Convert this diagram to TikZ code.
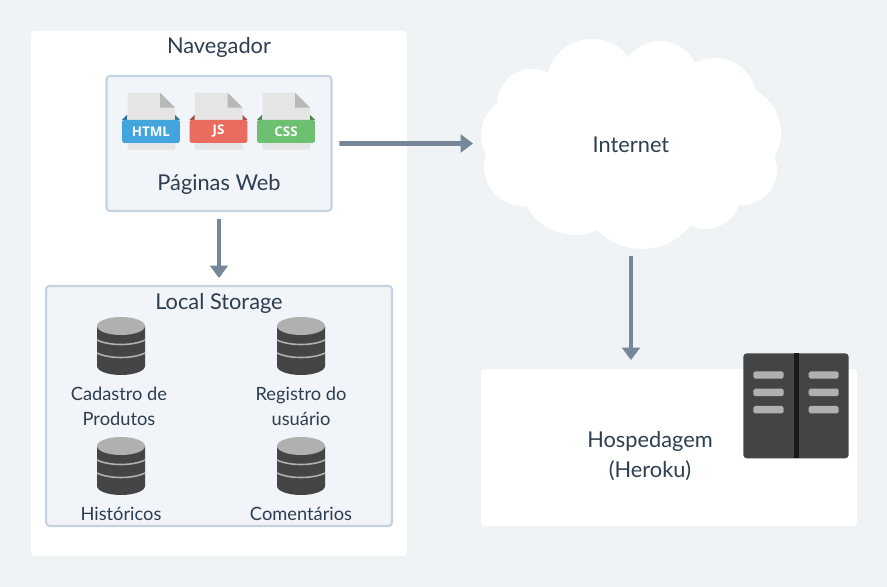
\documentclass[tikz,border=0pt]{standalone}
\usepackage{fontspec}
\setmainfont{Lato}
\newfontfamily\iconfont{Open Sans}
\usepackage{xcolor}
\definecolor{pagebg}{RGB}{239,243,246}
\definecolor{boxfill}{RGB}{241,244,248}
\definecolor{boxline}{RGB}{197,210,223}
\definecolor{arrowgray}{RGB}{118,135,154}
\definecolor{inktext}{RGB}{44,62,80}
\definecolor{sheetgray}{RGB}{229,229,229}
\definecolor{foldgray}{RGB}{184,184,184}
\definecolor{dbdark}{RGB}{68,68,68}
\definecolor{dbtop}{RGB}{176,176,176}
\definecolor{htmlblue}{RGB}{66,165,222}
\definecolor{jsred}{RGB}{234,107,96}
\definecolor{cssgreen}{RGB}{108,192,112}
\usetikzlibrary{arrows.meta, positioning}

\begin{document}
\begin{tikzpicture}[
    x=0.02cm, y=-0.02cm,
    panel/.style={rectangle, rounded corners=2pt, fill=white, inner sep=0pt, outer sep=0pt},
    framebox/.style={rectangle, rounded corners=2pt, draw=boxline, line width=1.2pt, fill=boxfill,
                     inner sep=0pt, outer sep=0pt},
    lbl/.style={font=\fontsize{12.4}{17}\selectfont, text=inktext, align=center, inner sep=0pt},
    dblbl/.style={font=\fontsize{10.4}{14.2}\selectfont, text=inktext, align=center, inner sep=0pt},
    arr/.style={-{Triangle[length=7pt, width=10pt]}, line width=2.8pt, arrowgray},
    fileicon/.pic={
        \fill[sheetgray] (-23.5,0) -- (9,0) -- (24,15) -- (24,57) -- (-23.5,57) -- cycle;
        \fill[foldgray] (9,0) -- (24,15) -- (9,15) -- cycle;
    },
    dbicon/.pic={
        \fill[dbdark] (-24,9) -- (-24,49) arc[x radius=24, y radius=9, start angle=180, end angle=0]
            -- (24,9) -- cycle;
        \fill[dbtop] (0,9) ellipse[x radius=24, y radius=9];
        \foreach \yy in {27,40}
            \draw[dbtop, line width=0.9pt] (-24,\yy-4) .. controls (-12,\yy+2) and (12,\yy+2) .. (24,\yy-4);
    },
]

\fill[pagebg] (0,0) rectangle (887,587);
\useasboundingbox (0,0) rectangle (887,587);

\node[panel, minimum width=7.52cm, minimum height=10.5cm] (navegador) at (219,293.5) {};
\node[lbl, below=0.13cm of navegador.north] (navegadortxt) {Navegador};

\node[framebox, minimum width=4.5cm, minimum height=2.7cm, below=0.9cm of navegador.north] (paginas) {};
\node[framebox, minimum width=6.92cm, minimum height=4.8cm, below=1.5cm of paginas] (storage) {};
\node[lbl, below=1.96cm of paginas.north] (paginastxt) {Páginas Web};
\node[lbl, below=0.14cm of storage.north] (storagetxt) {Local Storage};

% file icons
\foreach \xx/\tipcol/\tiplbl in {151/htmlblue/HTML, 218.5/jsred/JS, 286/cssgreen/CSS} {
    \pic at (\xx,92.7) {fileicon};
    \fill[\tipcol!70!black] (\xx-29,120) -- (\xx-24,115) -- (\xx-24,120) -- cycle;
    \fill[\tipcol!70!black] (\xx+29,120) -- (\xx+24,115) -- (\xx+24,120) -- cycle;
    \node[rectangle, rounded corners=1pt, fill=\tipcol, text=white, inner sep=0pt,
          minimum width=1.16cm, minimum height=0.46cm, font=\iconfont\bfseries\fontsize{7.6}{8}\selectfont]
        (icon\tiplbl) at (\xx,131.3) {\tiplbl};
}

% databases
\foreach \xx/\yy in {121/317, 301/317, 121/437, 301/437}
    \pic at (\xx,\yy) {dbicon};
\node[dblbl] (cadastro) at (119,406) {Cadastro de\\Produtos};
\node[dblbl] (registro) at (301,406) {Registro do\\usuário};
\node[dblbl] (historicos) at (121,513.5) {Históricos};
\node[dblbl] (comentarios) at (301,513.5) {Comentários};

% cloud
\foreach \cx/\cy/\cr in {592/85/46, 660/80/39, 715/100/42, 733/133/48, 742/170/35, 705/193/36,
                         642/187/62, 575/180/55, 523/167/39, 520/135/39, 532/104/35, 630/140/75}
    \fill[white] (\cx,\cy) circle[radius=\cr];
\node[inner sep=0pt, outer sep=0pt, minimum width=6cm, minimum height=4.18cm] (cloud) at (631,143.5) {};
\node[lbl] (internet) at (631,145) {Internet};

% hosting
\node[panel, minimum width=7.52cm, minimum height=3.14cm] (hospedagem) at (669,447.5) {};
\node[lbl] (hospedagemtxt) at (650,456.5) {Hospedagem\\(Heroku)};

\fill[dbdark, rounded corners=2pt] (743.3,353.3) rectangle (848.7,458.3);
\fill[black!90] (793.7,353.3) rectangle (799,458.3);
\foreach \yy in {371.3, 388.7, 406} {
    \fill[dbtop, rounded corners=1pt] (753.3,\yy) rectangle ++(30.4,7.4);
    \fill[dbtop, rounded corners=1pt] (808.7,\yy) rectangle ++(30,7.4);
}

\draw[arr, shorten <=0.16cm, shorten >=0.16cm] (paginas.east) -- (cloud.west);
\draw[arr, shorten <=0.16cm, shorten >=0.16cm] (paginas.south) -- (storage.north);
\draw[arr, shorten <=0.16cm, shorten >=0.18cm] (cloud.south) -- (cloud.south |- hospedagem.north);

\end{tikzpicture}
\end{document}
